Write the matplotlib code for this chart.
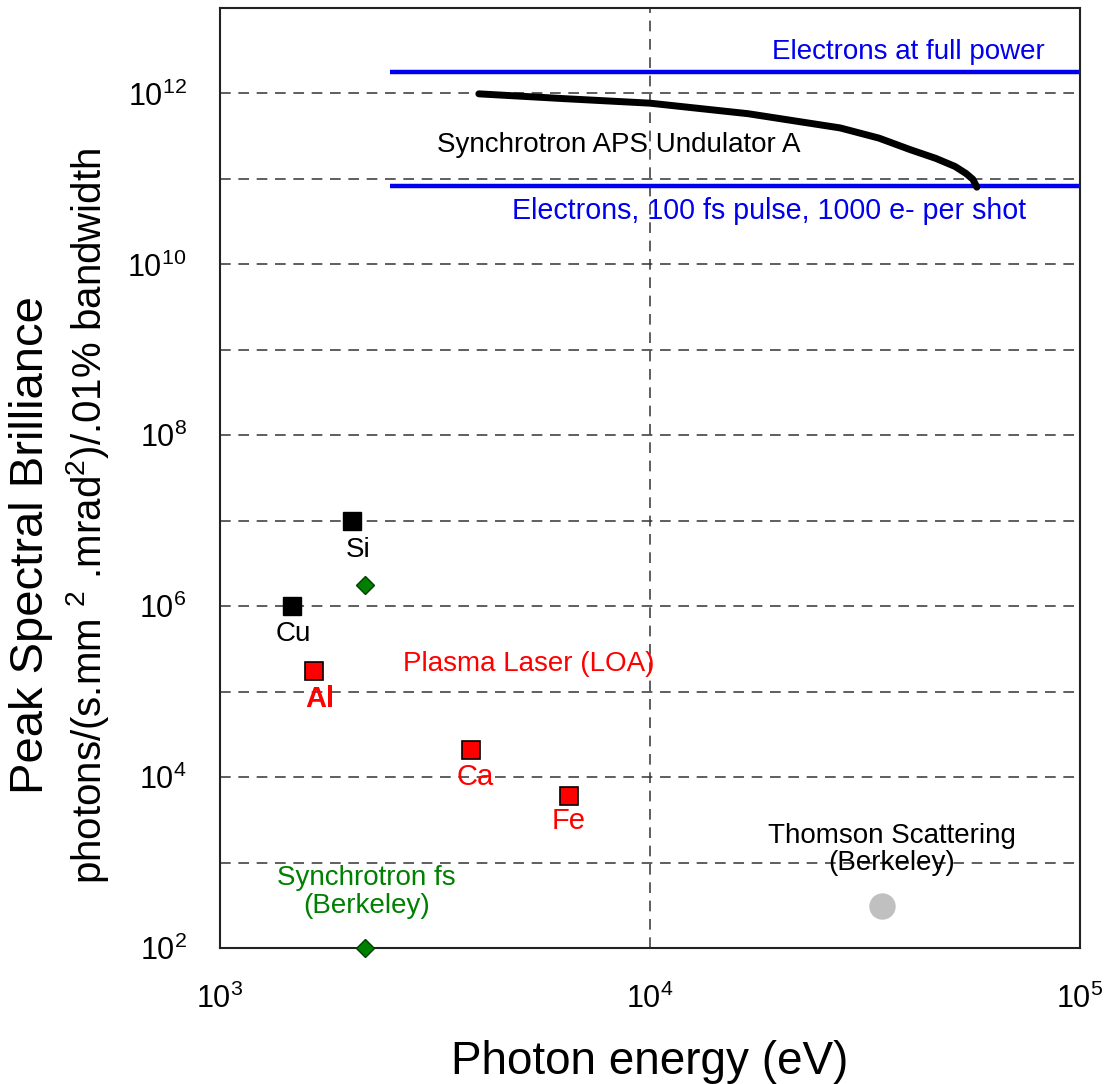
import numpy as np
import matplotlib
matplotlib.use("Agg")
import matplotlib.pyplot as plt
from matplotlib.ticker import FixedLocator, NullLocator, FuncFormatter

plt.rcParams['font.family'] = ['Liberation Sans', 'DejaVu Sans']
plt.rcParams['mathtext.fontset'] = 'custom'
plt.rcParams['mathtext.rm'] = 'Liberation Sans'
plt.rcParams['mathtext.it'] = 'Liberation Sans:italic'
plt.rcParams['mathtext.bf'] = 'Liberation Sans:bold'

# photon energy (eV) / peak spectral brilliance
aps_energy = [4000, 6310, 10000, 16900, 27700, 34100, 40300, 46200, 51200, 54300, 56350, 57570]
aps_brill = [9.9e11, 8.7e11, 7.7e11, 5.8e11, 3.95e11, 3.0e11, 2.2e11, 1.74e11, 1.40e11, 1.16e11, 9.9e10, 8.0e10]

electron_energy = [2480, 1e5]
electron_full = [1.8e12, 1.8e12]
electron_fs = [8.2e10, 8.2e10]

tube_names = ["Si", "Cu"]
tube_energy = [2030, 1470]
tube_brill = [1.0e7, 1.0e6]

plasma_names = ["Al", "Ca", "Fe"]
plasma_energy = [1656, 3836, 6480]
plasma_brill = [1.75e5, 2.1e4, 6.0e3]

sync_fs_energy = [2175, 2175]
sync_fs_brill = [1.75e6, 1.0e2]

thomson_energy = [34700]
thomson_brill = [310]

y_ticks = [10.0**k for k in range(2, 14)]
y_labelled = [2, 4, 6, 8, 10, 12]

fig = plt.figure(figsize=(11.12, 10.84), dpi=100)
ax = fig.add_axes([0.1978, 0.1255, 0.7734, 0.8671])
ax.set_xscale('log')
ax.set_yscale('log')
ax.set_xlim(1e3, 1e5)
ax.set_ylim(1e2, 1e13)

# grid
for yv in y_ticks[1:-1]:
    ax.axhline(yv, color='#333333', lw=1.1, ls=(0, (7, 5)), zorder=0)
ax.axvline(1e4, color='#333333', lw=1.1, ls=(0, (7, 5)), zorder=0)

ax.plot(electron_energy, electron_full, color='#0000ee', lw=3.2, solid_capstyle='butt')
ax.plot(electron_energy, electron_fs, color='#0000ee', lw=3.2, solid_capstyle='butt')
ax.plot(aps_energy, aps_brill, color='black', lw=5, solid_capstyle='round', solid_joinstyle='round')

ax.plot(tube_energy, tube_brill, ls='none', marker='s', ms=13, color='black')
ax.plot(plasma_energy, plasma_brill, ls='none', marker='s', ms=13, mfc='#ff0000', mec='black', mew=1.2)
ax.plot(sync_fs_energy, sync_fs_brill, ls='none', marker='D', ms=9, mfc='#008000', mec='#004000', mew=1, clip_on=False, zorder=5)
ax.plot(thomson_energy, thomson_brill, ls='none', marker='o', ms=18, color='#c0c0c0')

# text labels
ax.text(8.3e4, 3.05e12, "Electrons at full power", color='#0000ee', fontsize=20, ha='right', va='center')
ax.text(7.48e4, 4.2e10, "Electrons, 100 fs pulse, 1000 e- per shot", color='#0000ee', fontsize=20.6, ha='right', va='center')
ax.text(3.2e3, 2.5e11, "Synchrotron APS Undulator A", color='black', fontsize=20, ha='left', va='center')

tube_label_y = {"Si": 4.6e6, "Cu": 4.7e5}
tube_label_dx = {"Si": 1.03, "Cu": 1.01}
for name, xv in zip(tube_names, tube_energy):
    ax.text(xv * tube_label_dx[name], tube_label_y[name], name, color='black', fontsize=20, ha='center', va='center')
plasma_label_y = {"Al": 8.3e4, "Ca": 1.0e4, "Fe": 3.1e3}
plasma_label_dx = {"Al": 1.03, "Ca": 1.02, "Fe": 1.0}
plasma_label_w = {"Al": 'bold', "Ca": 'normal', "Fe": 'normal'}
for name, xv in zip(plasma_names, plasma_energy):
    ax.text(xv * plasma_label_dx[name], plasma_label_y[name], name, color='#ff0000', fontsize=21,
            fontweight=plasma_label_w[name], ha='center', va='center')
ax.text(2.665e3, 2.1e5, "Plasma Laser (LOA)", color='#ff0000', fontsize=20, ha='left', va='center')
ax.text(2.19e3, 4.5e2, "Synchrotron fs\n(Berkeley)", color='#008000', fontsize=20, ha='center', va='center', linespacing=1.08)
ax.text(3.65e4, 1.42e3, "Thomson Scattering\n(Berkeley)", color='black', fontsize=20, ha='center', va='center', linespacing=1.08)

# axes styling
for sp in ax.spines.values():
    sp.set_color('#222222')
    sp.set_linewidth(1.5)
ax.yaxis.set_major_locator(FixedLocator(y_ticks))
ax.yaxis.set_minor_locator(NullLocator())
ax.xaxis.set_minor_locator(NullLocator())
ax.xaxis.set_major_locator(FixedLocator([1e3, 1e4, 1e5]))

def ylab(v, pos):
    k = int(round(np.log10(v)))
    return r"$10^{%d}$" % k if k in y_labelled else ""

ax.yaxis.set_major_formatter(FuncFormatter(ylab))
ax.xaxis.set_major_formatter(FuncFormatter(lambda v, p: r"$10^{%d}$" % int(round(np.log10(v)))))
ax.tick_params(axis='both', length=0, labelsize=22)
ax.tick_params(axis='y', pad=24)
ax.tick_params(axis='x', pad=26)

fig.text(0.584, 0.020, "Photon energy (eV)", fontsize=33, ha='center', va='center')
fig.text(0.028, 0.497, "Peak Spectral Brilliance", rotation=90, fontsize=34, ha='center', va='center')
fig.text(0.079, 0.524, r"photons/(s.mm $^{2}$ .mrad$^{2}$)/.01% bandwidth", rotation=90, fontsize=29, ha='center', va='center')

fig.savefig("out.png", dpi=100)
